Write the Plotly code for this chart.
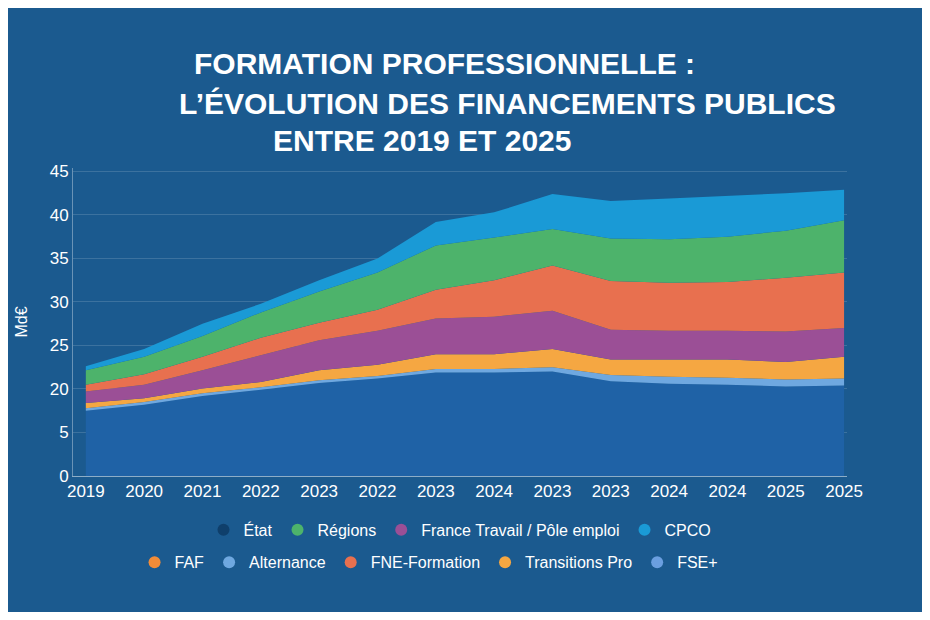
import plotly.graph_objects as go

years = ["2019", "2020", "2021", "2022", "2023", "2022", "2023", "2024",
         "2023", "2023", "2024", "2024", "2025", "2025"]
etat = [7.5, 8.2, 9.2, 9.9, 10.7, 11.2, 11.9, 11.9, 12.0, 10.9, 10.6, 10.5, 10.3, 10.4]
alternance = [0.3, 0.3, 0.3, 0.3, 0.3, 0.3, 0.4, 0.4, 0.5, 0.7, 0.8, 0.8, 0.8, 0.8]
transitions = [0.6, 0.45, 0.55, 0.6, 1.15, 1.3, 1.7, 1.7, 2.1, 1.8, 2.0, 2.1, 2.0, 2.5]
france_travail = [1.3, 1.55, 2.1, 3.1, 3.45, 3.9, 4.1, 4.3, 4.4, 3.4, 3.3, 3.3, 3.5, 3.3]
fne = [0.8, 1.2, 1.55, 2.0, 2.0, 2.4, 3.3, 4.2, 5.2, 5.6, 5.5, 5.6, 6.2, 6.4]
regions = [1.65, 2.0, 2.4, 2.9, 3.6, 4.3, 5.1, 4.9, 4.2, 4.9, 5.0, 5.2, 5.4, 6.0]
cpco = [0.45, 0.9, 1.4, 1.0, 1.3, 1.6, 2.7, 2.9, 4.0, 4.3, 4.7, 4.7, 4.3, 3.5]
y_ticks = [0, 5, 10, 15, 20, 25, 30, 35]
y_labels = ["0", "5", "20", "25", "30", "35", "40", "45"]

x = list(range(len(years)))
bg = "#1b5a8f"

stack = [
    ("État", etat, "#1f62a6"),
    ("Alternance", alternance, "#6fa8e0"),
    ("Transitions Pro", transitions, "#f5a742"),
    ("France Travail / Pôle emploi", france_travail, "#9b4f96"),
    ("FNE-Formation", fne, "#e8704f"),
    ("Régions", regions, "#4db36b"),
    ("CPCO", cpco, "#1a9ad6"),
]

fig = go.Figure()
for name, vals, col in stack:
    fig.add_trace(go.Scatter(
        x=x, y=vals, name=name, stackgroup="one", mode="lines",
        line=dict(width=0, color=col), fillcolor=col, showlegend=False,
    ))

# legend entries, two rows as in the reference
row1 = [("État", "#0f3f6b"), ("Régions", "#4db36b"),
        ("France Travail / Pôle emploi", "#9b4f96"), ("CPCO", "#1a9ad6")]
row2 = [("FAF", "#f28c38"), ("Alternance", "#6fa8e0"),
        ("FNE-Formation", "#e8704f"), ("Transitions Pro", "#f5a742"),
        ("FSE+", "#6b9fe0")]
for leg, items in (("legend", row1), ("legend2", row2)):
    for name, col in items:
        fig.add_trace(go.Scatter(
            x=[None], y=[None], name=name, mode="markers", legend=leg,
            marker=dict(size=17, color=col, symbol="circle"),
        ))

leg_common = dict(orientation="h", xanchor="center", yanchor="middle",
                  font=dict(size=16), itemsizing="constant",
                  bgcolor="rgba(0,0,0,0)", traceorder="normal")

title_lines = [
    ("FORMATION PROFESSIONNELLE :", 443, 50),
    ("L’ÉVOLUTION DES FINANCEMENTS PUBLICS", 507, 92),
    ("ENTRE 2019 ET 2025", 420, 131),
]
annotations = [
    dict(text="<b>" + t + "</b>", xref="paper", yref="paper",
         x=(px - 62) / (930 - 62 - 75), y=(620 - 136 - py) / (620 - 160 - 136),
         xanchor="center", yanchor="middle", showarrow=False,
         font=dict(size=30, color="white", family="Liberation Sans, Arial"))
    for t, px, py in title_lines
]

fig.update_layout(
    paper_bgcolor=bg, plot_bgcolor=bg,
    margin=dict(l=62, r=75, t=160, b=136),
    font=dict(family="Liberation Sans, Arial", color="white", size=17),
    annotations=annotations,
    xaxis=dict(
        tickmode="array", tickvals=x, ticktext=years, range=[-0.22, 13.05],
        showgrid=False, zeroline=False, showline=True, linecolor="rgba(255,255,255,0.5)",
        tickfont=dict(size=17),
    ),
    yaxis=dict(
        tickmode="array", tickvals=y_ticks, ticktext=y_labels, range=[0, 35.4],
        showgrid=True, gridcolor="rgba(255,255,255,0.15)", zeroline=False,
        showline=True, linecolor="rgba(255,255,255,0.35)",
        tickfont=dict(size=17), title=dict(text="Md€", font=dict(size=16), standoff=18),
    ),
    legend=dict(x=0.5, y=-0.175, **leg_common),
    legend2=dict(x=0.46, y=-0.28, **leg_common),
)

fig.write_html("out.html")
